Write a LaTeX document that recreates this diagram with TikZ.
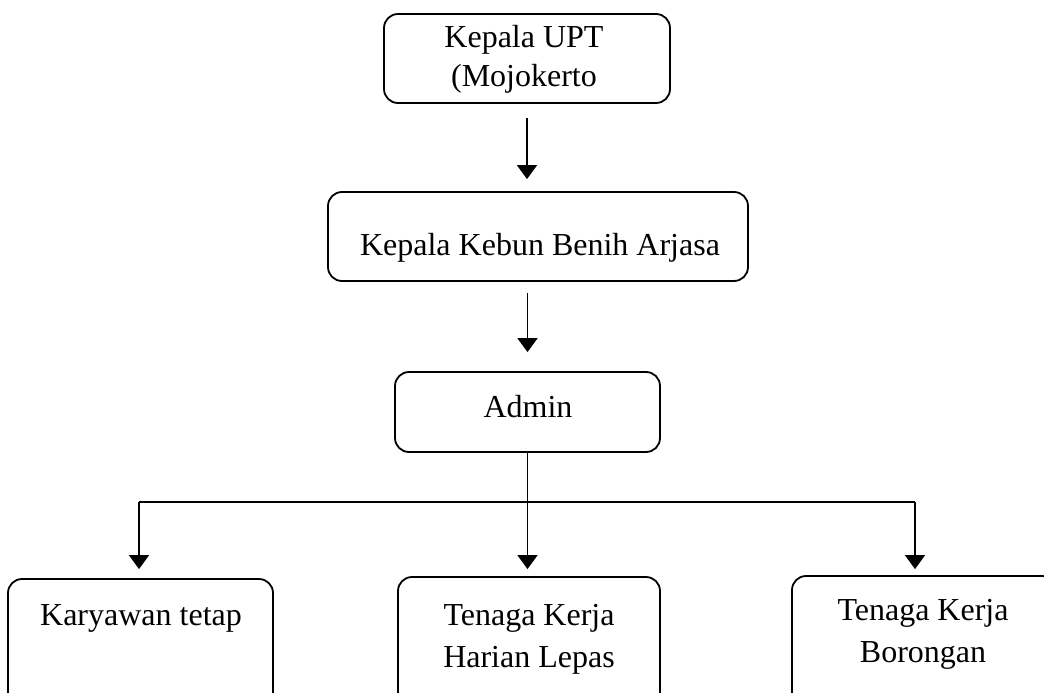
\documentclass[tikz,border=0pt]{standalone}
\usepackage{fontspec}
\setmainfont{Liberation Serif}
\usetikzlibrary{arrows.meta}
\begin{document}
\begin{tikzpicture}[x=1pt,y=-1pt,
  box/.style={draw, line width=1.8pt, rounded corners=14pt, inner sep=0pt},
  txt/.style={anchor=base, inner sep=0pt, font=\fontsize{32}{40}\selectfont},
  arr/.style={line width=1.8pt, -{Triangle[width=20pt,length=14pt]}},
  arrb/.style={line width=1.5pt, -{Triangle[width=20pt,length=14pt]}},
  link/.style={line width=1.2pt}]
\useasboundingbox (0,0) rectangle (1044,693);
\clip (0,0) rectangle (1044,693);
\fill[white] (0,0) rectangle (1044,693);

% boxes
\node[box, minimum width=286pt, minimum height=89pt] (upt) at (527,58.5) {};
\node[box, minimum width=420pt, minimum height=89pt] (kebun) at (538,236.5) {};
\node[box, minimum width=265pt, minimum height=80pt] (admin) at (527.5,412) {};
\node[box, minimum width=265pt, minimum height=141pt] (tetap) at (140.5,649.5) {};
\node[box, minimum width=262pt, minimum height=143pt] (harian) at (529,648.5) {};
\node[box, minimum width=264pt, minimum height=144pt] (borongan) at (924,648) {};

% texts
\node[txt] (t1a) at (524,48) {Kepala UPT};
\node[txt] (t1b) at (524,86) {(Mojokerto};
\node[txt] (t2) at (540,255) {Kepala Kebun Benih Arjasa};
\node[txt] (t3) at (528,417) {Admin};
\node[txt] (t4) at (141,625) {Karyawan tetap};
\node[txt] (t5a) at (529,625) {Tenaga Kerja};
\node[txt] (t5b) at (529,667) {Harian Lepas};
\node[txt] (t6a) at (923,620) {Tenaga Kerja};
\node[txt] (t6b) at (923,662) {Borongan};

% connectors
\draw[arr, shorten <=14pt, shorten >=12pt] (upt.south) -- (upt.south |- kebun.north);
\draw[arr, shorten <=11pt, shorten >=19pt] (kebun.south -| admin.north) -- (admin.north);
\draw[arrb, shorten >=7pt] (admin.south) -- (admin.south |- harian.north);
\coordinate (busL) at (139,502);
\coordinate (busR) at (915,502);
\draw[link] (busL) -- (busR);
\draw[arrb, shorten >=9pt] (busL) -- (busL |- tetap.north);
\draw[arrb, shorten >=6pt] (busR) -- (busR |- borongan.north);
\end{tikzpicture}
\end{document}
